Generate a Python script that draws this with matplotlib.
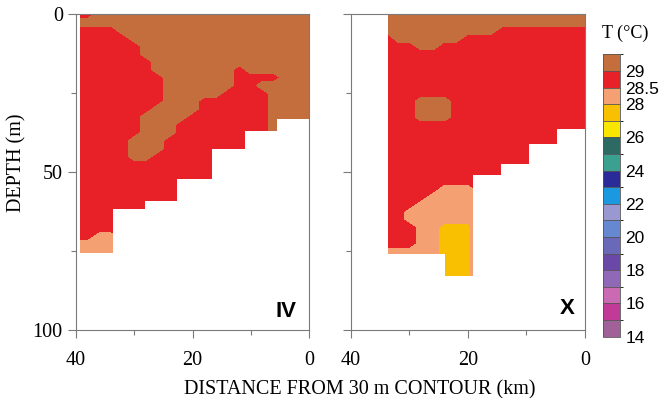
"""
Temperature sections IV and X across the 30 m contour.
"""

import numpy as np
import pandas as pd
import matplotlib
matplotlib.use("Agg")
import matplotlib.pyplot as plt
from matplotlib.colors import ListedColormap, BoundaryNorm
from matplotlib.ticker import FixedLocator

plt.rcParams["font.family"] = ["Liberation Serif", "DejaVu Serif"]

# --- colour scale (bottom -> top) ---
temp_levels = [14, 15, 16, 17, 18, 19, 20, 21, 22, 23, 24, 25, 26, 27, 28, 28.5, 29, 30]
temp_colors = [
    "#a26098", "#c23a98", "#c96ab2", "#9068b8", "#6a48a8", "#6a68b8",
    "#6688d0", "#9a98d0", "#1a98e0", "#2a2a98", "#3aa090", "#2e6a64",
    "#f8e600", "#f8c000", "#f4a072", "#e82028", "#c46e3e",
]
cbar_ticks = [14, 16, 18, 20, 22, 24, 26, 28, 28.5, 29]

# temperature class of each grid node: B > 29, R 28.5-29, O 28-28.5, Y 27-28
class_temp = {"B": 29.25, "R": 28.75, "O": 28.25, "Y": 27.75}
depth_step = 2.5  # m between grid rows

# --- section IV (columns from 39.3 km on the left to 0 km on the right) ---
iv_x = [0, 2, 4, 6, 8, 10, 12, 14, 16, 18, 20, 22, 24, 26, 28, 30, 32, 34, 36, 38, 39.3]
iv_rows = [
    "RRBBBBBBBBBBBBBBBBBBB",
    "BBBBBBBBBBBBBBBBBBBBB",
    "RRRRBBBBBBBBBBBBBBBBB",
    "RRRRRBBBBBBBBBBBBBBBB",
    "RRRRRRBBBBBBBBBBBBBBB",
    "RRRRRRBBBBBBBBBBBBBBB",
    "RRRRRRRBBBBBBBBBBBBBB",
    "RRRRRRRBBBBBBBRBBBBBB",
    "RRRRRRRRBBBBBBRRRRBBB",
    "RRRRRRRRBBBBBBRRBBBBB",
    "RRRRRRRRBBBBBRRRRBBBB",
    "RRRRRRRRBBBRRRRRRBBBB",
    "RRRRRRRBBBBRRRRRRBBBB",
    "RRRRRRBBBBRRRRRRRBBBB",
    "RRRRRRBBBRRRRRRRRB...",
    "RRRRRRBBBRRRRRR......",
    "RRRRRBBBRRRRRRR......",
    "RRRRRBBBRRRR.........",
    "RRRRRBBRRRRR.........",
    "RRRRRRRRRRRR.........",
    "RRRRRRRRRRRR.........",
    "RRRRRRRRR............",
    "RRRRRRRRR............",
    "RRRRRRRRR............",
    "RRRRRR...............",
    "RRRR.................",
    "RRRR.................",
    "RRRR.................",
    "RROO.................",
    "OOOO.................",
    "OOOO.................",
    "OOOO.................",
]
iv_bottom_edges = [0, 5.5, 11, 16.6, 22.7, 28.2, 33.6, 39.3]
iv_bottom_depth = [33, 37, 42.5, 52, 59, 61.5, 75.5]

# --- section X (columns from 33.6 km on the left to 0 km on the right) ---
x_x = [0, 2, 4, 6, 8, 10, 12, 14, 16, 18, 20, 22, 24, 26, 28, 30, 32, 33.6]
x_rows = [
    "BBBBBBBBBBBBBBBBBB",
    "BBBBBBBBBBBBBBBBBB",
    "BBBBBBBBBBRRRRRRRR",
    "RBBBBBBRRRRRRRRRRR",
    "RRRBBRRRRRRRRRRRRR",
    "RRRRRRRRRRRRRRRRRR",
    "RRRRRRRRRRRRRRRRRR",
    "RRRRRRRRRRRRRRRRRR",
    "RRRRRRRRRRRRRRRRRR",
    "RRRRRRRRRRRRRRRRRR",
    "RRRRRRRRRRRRRRRRRR",
    "RRRBBBRRRRRRRRRRRR",
    "RRRBBBRRRRRRRRRRRR",
    "RRRBBBRRRRRRRRRRRR",
    "RRRRRRRRRRRRRRRRRR",
    "RRRRRRRRRRRRRRR...",
    "RRRRRRRRRRRRRRR...",
    "RRRRRRRRRRRRR.....",
    "RRRRRRRRRRRRR.....",
    "RRRRRRRRRR........",
    "RRRRRRRRRR........",
    "RRRRRRRR..........",
    "RRRRROOO..........",
    "RRRROOOO..........",
    "RRROOOOO..........",
    "RROOOOOO..........",
    "RROOOOOO..........",
    "RRROOYYY..........",
    "RRROOYYY..........",
    "RRROOYYY..........",
    "OOOOOYYY..........",
    "......YY..........",
    "......YY..........",
    "......YY..........",
    "......YY..........",
]
x_bottom_edges = [0, 4.8, 9.5, 14.3, 19.2, 23.9, 33.6]
x_bottom_depth = [36.4, 41, 47.3, 51, 82.8, 76]

cmap = ListedColormap(temp_colors)
norm = BoundaryNorm(temp_levels, cmap.N)
AXIS_GREY = "#7a7a7a"


def build_field(rows):
    """Rows are written left (far offshore) to right; flip to ascending distance."""
    grid = [[class_temp.get(c, np.nan) for c in row[::-1]] for row in rows]
    # below the sea bed: carry the last value down so contours reach the bottom
    return pd.DataFrame(grid).ffill().to_numpy()


def draw_section(ax, x_nodes, rows, edges, bottom, label, label_pos, ylabels=True):
    depth = np.arange(len(rows)) * depth_step
    cs = ax.contourf(x_nodes, depth, build_field(rows), levels=temp_levels,
                     cmap=cmap, norm=norm)
    # sea bed
    ax.stairs(bottom, edges, baseline=100, fill=True, color="white",
              linewidth=0, zorder=2)

    ax.set_xlim(40, 0)
    ax.set_ylim(100, 0)
    ax.xaxis.set_major_locator(FixedLocator([40, 20, 0]))
    ax.xaxis.set_minor_locator(FixedLocator([30, 10]))
    ax.yaxis.set_major_locator(FixedLocator([0, 50, 100]))
    ax.yaxis.set_minor_locator(FixedLocator([25, 75]))
    ax.tick_params(which="both", direction="out", color=AXIS_GREY, width=0.8,
                   labelsize=14.5, top=False, right=False)
    ax.tick_params(which="major", length=6)
    ax.tick_params(which="minor", length=3.5)
    ax.tick_params(axis="x", pad=9)
    ax.tick_params(axis="y", pad=3.5, labelleft=ylabels)
    for sp in ax.spines.values():
        sp.set_color(AXIS_GREY)
        sp.set_linewidth(0.8)
        sp.set_zorder(3)

    ax.text(label_pos[0], label_pos[1], label, transform=ax.transAxes,
            ha="center", va="center", fontsize=16, fontweight="bold",
            family="Liberation Sans", zorder=4)
    return cs


fig = plt.figure(figsize=(6.61, 3.98), dpi=100)
ax_iv = fig.add_axes([0.1150, 0.1709, 0.3525, 0.7927])
ax_x = fig.add_axes([0.5306, 0.1709, 0.3545, 0.7927])

cs = draw_section(ax_iv, iv_x, iv_rows, iv_bottom_edges, iv_bottom_depth,
                  "IV", (0.901, 0.057))
draw_section(ax_x, x_x, x_rows, x_bottom_edges, x_bottom_depth,
             "X", (0.923, 0.067), ylabels=False)

fig.text(0.545, 0.01, "DISTANCE FROM 30 m CONTOUR (km)", ha="center",
         va="baseline", fontsize=14.5)
fig.text(0.0257, 0.59, "DEPTH (m)", rotation=90, ha="center", va="center",
         fontsize=14.5)

# --- colour bar ---
cax = fig.add_axes([0.9127, 0.154, 0.0253, 0.7095])
cb = fig.colorbar(cs, cax=cax, ticks=cbar_ticks, drawedges=True)
cb.ax.set_yticklabels([f"{t:g}" for t in cbar_ticks])
cb.ax.tick_params(length=0, pad=4, labelsize=12.5)
for lab in cb.ax.get_yticklabels():
    lab.set_family("Liberation Sans")
cb.outline.set_edgecolor("#555555")
cb.outline.set_linewidth(0.6)
cb.dividers.set_color("#555555")
cb.dividers.set_linewidth(0.6)
fig.text(0.9455, 0.915, "T (°C)", ha="center", va="center", fontsize=13)

fig.savefig("out.png", dpi=100)
plt.close(fig)
